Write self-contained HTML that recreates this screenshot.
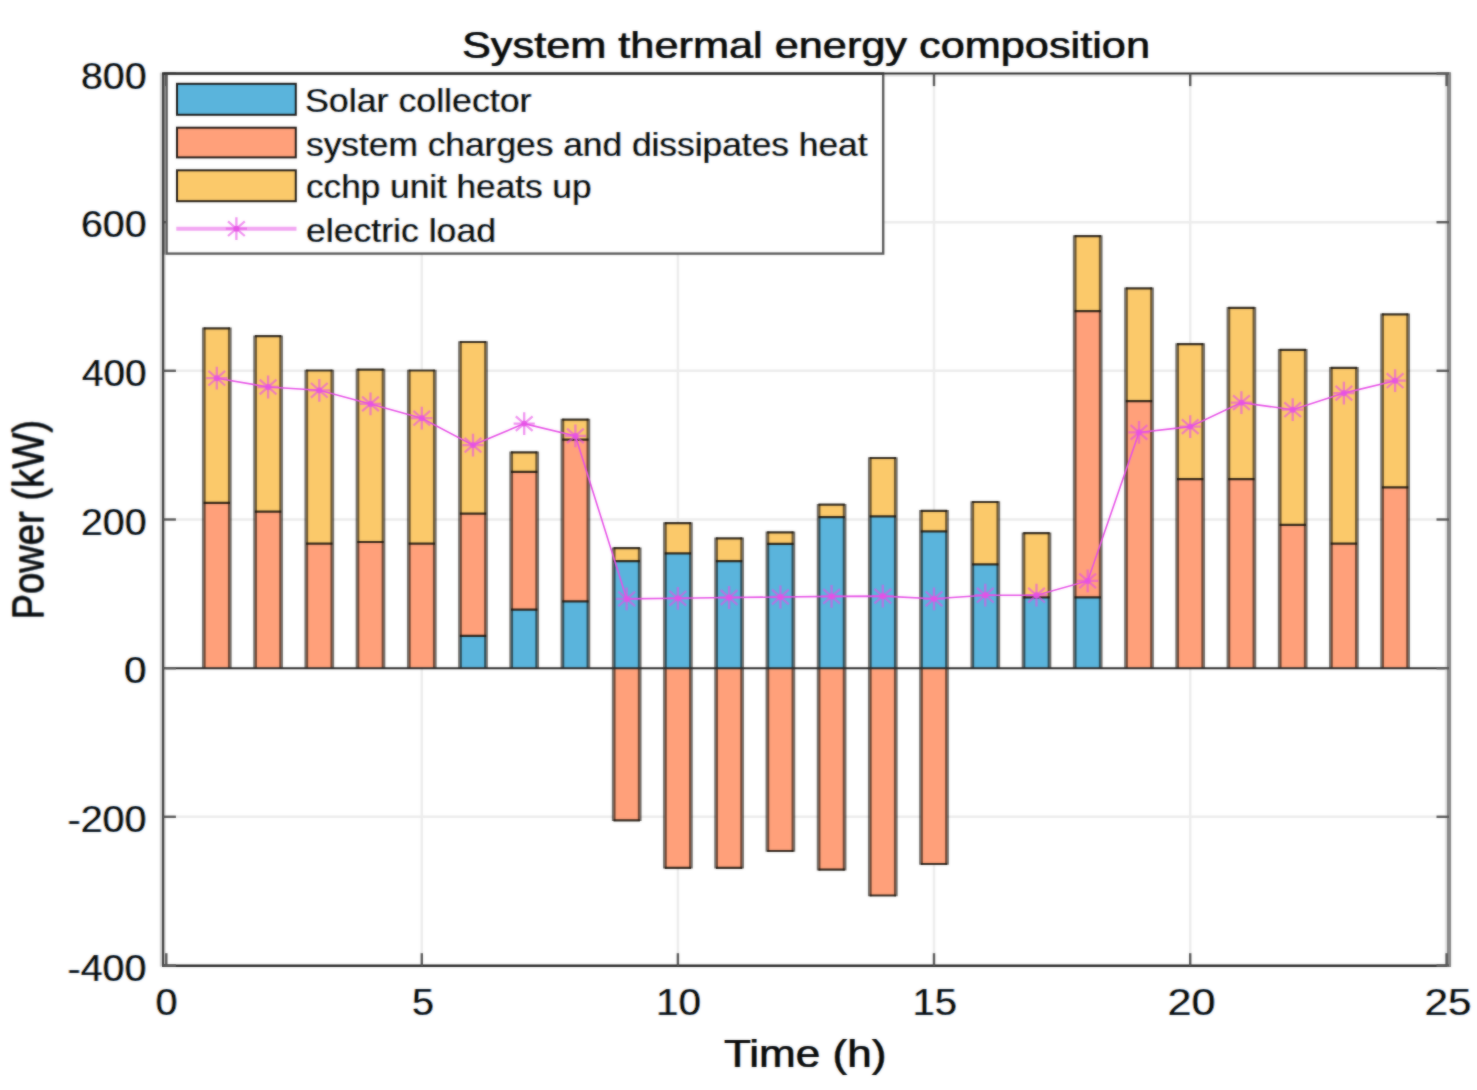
<!DOCTYPE html>
<html lang="en"><head><meta charset="utf-8"><title>System thermal energy composition</title>
<style>html,body{margin:0;padding:0;background:#fff;}body{width:1477px;height:1090px;overflow:hidden;}svg{display:block;}</style>
</head><body>
<svg width="1477" height="1090" viewBox="0 0 1477 1090">
<rect width="1477" height="1090" fill="#fff"/>
<defs><filter id="soft" x="0" y="0" width="1477" height="1090" filterUnits="userSpaceOnUse" color-interpolation-filters="sRGB"><feGaussianBlur stdDeviation="0.9"/></filter></defs>
<use href="#chart" filter="url(#soft)"/>
<g opacity="0.5">
<g id="chart">
<rect width="1477" height="1090" fill="#fff"/>
<g stroke="#ececec" stroke-width="2.4" fill="none">
<line x1="421.8" y1="73.6" x2="421.8" y2="965.7"/>
<line x1="677.9" y1="73.6" x2="677.9" y2="965.7"/>
<line x1="934.0" y1="73.6" x2="934.0" y2="965.7"/>
<line x1="1190.2" y1="73.6" x2="1190.2" y2="965.7"/>
<line x1="163.4" y1="222.2" x2="1449.0" y2="222.2"/>
<line x1="163.4" y1="370.8" x2="1449.0" y2="370.8"/>
<line x1="163.4" y1="519.5" x2="1449.0" y2="519.5"/>
<line x1="163.4" y1="816.8" x2="1449.0" y2="816.8"/>
</g>
<g><rect x="203.8" y="502.9" width="26.0" height="165.3" fill="#ffa07a"/><rect x="203.8" y="328.3" width="26.0" height="174.6" fill="#fbc96b"/><rect x="255.1" y="511.7" width="26.0" height="156.5" fill="#ffa07a"/><rect x="255.1" y="336.2" width="26.0" height="175.5" fill="#fbc96b"/><rect x="306.3" y="543.6" width="26.0" height="124.6" fill="#ffa07a"/><rect x="306.3" y="370.5" width="26.0" height="173.1" fill="#fbc96b"/><rect x="357.5" y="542.0" width="26.0" height="126.2" fill="#ffa07a"/><rect x="357.5" y="369.6" width="26.0" height="172.4" fill="#fbc96b"/><rect x="408.8" y="543.6" width="26.0" height="124.6" fill="#ffa07a"/><rect x="408.8" y="370.5" width="26.0" height="173.1" fill="#fbc96b"/><rect x="460.0" y="635.9" width="26.0" height="32.3" fill="#5ab4dc"/><rect x="460.0" y="513.6" width="26.0" height="122.3" fill="#ffa07a"/><rect x="460.0" y="342.0" width="26.0" height="171.6" fill="#fbc96b"/><rect x="511.2" y="609.7" width="26.0" height="58.5" fill="#5ab4dc"/><rect x="511.2" y="471.9" width="26.0" height="137.8" fill="#ffa07a"/><rect x="511.2" y="452.4" width="26.0" height="19.5" fill="#fbc96b"/><rect x="562.4" y="601.4" width="26.0" height="66.8" fill="#5ab4dc"/><rect x="562.4" y="439.6" width="26.0" height="161.8" fill="#ffa07a"/><rect x="562.4" y="419.6" width="26.0" height="20.0" fill="#fbc96b"/><rect x="613.7" y="561.1" width="26.0" height="107.1" fill="#5ab4dc"/><rect x="613.7" y="548.2" width="26.0" height="12.9" fill="#fbc96b"/><rect x="613.7" y="668.2" width="26.0" height="152.1" fill="#ffa07a"/><rect x="664.9" y="553.4" width="26.0" height="114.8" fill="#5ab4dc"/><rect x="664.9" y="523.1" width="26.0" height="30.3" fill="#fbc96b"/><rect x="664.9" y="668.2" width="26.0" height="199.6" fill="#ffa07a"/><rect x="716.1" y="561.2" width="26.0" height="107.0" fill="#5ab4dc"/><rect x="716.1" y="538.3" width="26.0" height="22.9" fill="#fbc96b"/><rect x="716.1" y="668.2" width="26.0" height="199.6" fill="#ffa07a"/><rect x="767.4" y="543.8" width="26.0" height="124.4" fill="#5ab4dc"/><rect x="767.4" y="532.3" width="26.0" height="11.5" fill="#fbc96b"/><rect x="767.4" y="668.2" width="26.0" height="182.8" fill="#ffa07a"/><rect x="818.6" y="517.2" width="26.0" height="151.0" fill="#5ab4dc"/><rect x="818.6" y="504.7" width="26.0" height="12.5" fill="#fbc96b"/><rect x="818.6" y="668.2" width="26.0" height="201.5" fill="#ffa07a"/><rect x="869.8" y="516.3" width="26.0" height="151.9" fill="#5ab4dc"/><rect x="869.8" y="458.0" width="26.0" height="58.3" fill="#fbc96b"/><rect x="869.8" y="668.2" width="26.0" height="227.3" fill="#ffa07a"/><rect x="921.0" y="531.3" width="26.0" height="136.9" fill="#5ab4dc"/><rect x="921.0" y="510.8" width="26.0" height="20.5" fill="#fbc96b"/><rect x="921.0" y="668.2" width="26.0" height="195.8" fill="#ffa07a"/><rect x="972.3" y="564.4" width="26.0" height="103.8" fill="#5ab4dc"/><rect x="972.3" y="502.0" width="26.0" height="62.4" fill="#fbc96b"/><rect x="1023.5" y="597.4" width="26.0" height="70.8" fill="#5ab4dc"/><rect x="1023.5" y="533.2" width="26.0" height="64.2" fill="#fbc96b"/><rect x="1074.7" y="597.4" width="26.0" height="70.8" fill="#5ab4dc"/><rect x="1074.7" y="311.2" width="26.0" height="286.2" fill="#ffa07a"/><rect x="1074.7" y="236.1" width="26.0" height="75.1" fill="#fbc96b"/><rect x="1126.0" y="401.2" width="26.0" height="267.0" fill="#ffa07a"/><rect x="1126.0" y="288.4" width="26.0" height="112.8" fill="#fbc96b"/><rect x="1177.2" y="479.2" width="26.0" height="189.0" fill="#ffa07a"/><rect x="1177.2" y="344.1" width="26.0" height="135.1" fill="#fbc96b"/><rect x="1228.4" y="479.2" width="26.0" height="189.0" fill="#ffa07a"/><rect x="1228.4" y="307.8" width="26.0" height="171.4" fill="#fbc96b"/><rect x="1279.7" y="524.9" width="26.0" height="143.3" fill="#ffa07a"/><rect x="1279.7" y="349.9" width="26.0" height="175.0" fill="#fbc96b"/><rect x="1330.9" y="543.6" width="26.0" height="124.6" fill="#ffa07a"/><rect x="1330.9" y="367.9" width="26.0" height="175.7" fill="#fbc96b"/><rect x="1382.1" y="487.4" width="26.0" height="180.8" fill="#ffa07a"/><rect x="1382.1" y="314.3" width="26.0" height="173.1" fill="#fbc96b"/></g>
<path d="M203.8 327.5V668.2M229.8 327.5V668.2M255.1 335.4V668.2M281.1 335.4V668.2M306.3 369.7V668.2M332.3 369.7V668.2M357.5 368.8V668.2M383.5 368.8V668.2M408.8 369.7V668.2M434.8 369.7V668.2M460.0 341.2V668.2M486.0 341.2V668.2M511.2 451.6V668.2M537.2 451.6V668.2M562.4 418.8V668.2M588.4 418.8V668.2M613.7 547.4V821.1M639.7 547.4V821.1M664.9 522.3V868.6M690.9 522.3V868.6M716.1 537.5V868.6M742.1 537.5V868.6M767.4 531.5V851.8M793.4 531.5V851.8M818.6 503.9V870.5M844.6 503.9V870.5M869.8 457.2V896.3M895.8 457.2V896.3M921.0 510.0V864.8M947.0 510.0V864.8M972.3 501.2V668.2M998.3 501.2V668.2M1023.5 532.4V668.2M1049.5 532.4V668.2M1074.7 235.3V668.2M1100.7 235.3V668.2M1126.0 287.6V668.2M1152.0 287.6V668.2M1177.2 343.3V668.2M1203.2 343.3V668.2M1228.4 307.0V668.2M1254.4 307.0V668.2M1279.7 349.1V668.2M1305.7 349.1V668.2M1330.9 367.1V668.2M1356.9 367.1V668.2M1382.1 313.5V668.2M1408.1 313.5V668.2" stroke="#120c06" stroke-opacity="0.58" stroke-width="3.7" fill="none"/>
<path d="M1023.3 533.2H1049.7M1023.3 597.4H1049.7M1074.5 236.1H1100.9M1074.5 311.2H1100.9M1074.5 597.4H1100.9M1125.8 288.4H1152.2M1125.8 401.2H1152.2M1177.0 344.1H1203.4M1177.0 479.2H1203.4M1228.2 307.8H1254.6M1228.2 479.2H1254.6M1279.5 349.9H1305.9M1279.5 524.9H1305.9M1330.7 367.9H1357.1M1330.7 543.6H1357.1M1381.9 314.3H1408.3M1381.9 487.4H1408.3M203.6 328.3H230.0M203.6 502.9H230.0M254.9 336.2H281.3M254.9 511.7H281.3M306.1 370.5H332.5M306.1 543.6H332.5M357.3 369.6H383.7M357.3 542.0H383.7M408.6 370.5H434.9M408.6 543.6H434.9M459.8 342.0H486.2M459.8 513.6H486.2M459.8 635.9H486.2M511.0 452.4H537.4M511.0 471.9H537.4M511.0 609.7H537.4M562.2 419.6H588.6M562.2 439.6H588.6M562.2 601.4H588.6M613.5 548.2H639.9M613.5 561.1H639.9M613.5 820.3H639.9M664.7 523.1H691.1M664.7 553.4H691.1M664.7 867.8H691.1M715.9 538.3H742.3M715.9 561.2H742.3M715.9 867.8H742.3M767.2 532.3H793.6M767.2 543.8H793.6M767.2 851.0H793.6M818.4 504.7H844.8M818.4 517.2H844.8M818.4 869.7H844.8M869.6 458.0H896.0M869.6 516.3H896.0M869.6 895.5H896.0M920.8 510.8H947.2M920.8 531.3H947.2M920.8 864.0H947.2M972.1 502.0H998.5M972.1 564.4H998.5" stroke="#1a140c" stroke-opacity="0.88" stroke-width="2.2" fill="none"/>
<line x1="163.4" y1="668.2" x2="1449.0" y2="668.2" stroke="#2a2a2a" stroke-width="1.9"/>
<polyline points="216.8,378.2 268.1,387.0 319.3,390.3 370.5,403.9 421.8,418.2 473.0,445.1 524.2,423.6 575.4,435.9 626.7,598.9 677.9,598.3 729.1,597.5 780.4,597.0 831.6,596.4 882.8,596.1 934.0,598.8 985.3,595.2 1036.5,595.2 1087.7,580.9 1139.0,432.4 1190.2,426.6 1241.4,402.6 1292.7,409.7 1343.9,393.1 1395.1,380.7" fill="none" stroke="#e650e6" stroke-width="1.6" stroke-opacity="1"/>
<path d="M206.2 378.2L227.4 378.2M216.8 366.8L216.8 389.6M208.4 370.9L225.2 385.5M208.4 385.5L225.2 370.9" stroke="#e650e6" stroke-width="2.3" fill="none" stroke-opacity="0.62"/><circle cx="216.8" cy="378.2" r="2.9" fill="#e650e6" fill-opacity="0.85"/>
<path d="M257.5 387.0L278.7 387.0M268.1 375.6L268.1 398.4M259.7 379.7L276.5 394.3M259.7 394.3L276.5 379.7" stroke="#e650e6" stroke-width="2.3" fill="none" stroke-opacity="0.62"/><circle cx="268.1" cy="387.0" r="2.9" fill="#e650e6" fill-opacity="0.85"/>
<path d="M308.7 390.3L329.9 390.3M319.3 378.9L319.3 401.7M310.9 383.0L327.7 397.6M310.9 397.6L327.7 383.0" stroke="#e650e6" stroke-width="2.3" fill="none" stroke-opacity="0.62"/><circle cx="319.3" cy="390.3" r="2.9" fill="#e650e6" fill-opacity="0.85"/>
<path d="M359.9 403.9L381.1 403.9M370.5 392.5L370.5 415.3M362.1 396.6L378.9 411.2M362.1 411.2L378.9 396.6" stroke="#e650e6" stroke-width="2.3" fill="none" stroke-opacity="0.62"/><circle cx="370.5" cy="403.9" r="2.9" fill="#e650e6" fill-opacity="0.85"/>
<path d="M411.1 418.2L432.4 418.2M421.8 406.8L421.8 429.6M413.4 410.9L430.1 425.5M413.4 425.5L430.1 410.9" stroke="#e650e6" stroke-width="2.3" fill="none" stroke-opacity="0.62"/><circle cx="421.8" cy="418.2" r="2.9" fill="#e650e6" fill-opacity="0.85"/>
<path d="M462.4 445.1L483.6 445.1M473.0 433.7L473.0 456.5M464.6 437.8L481.4 452.4M464.6 452.4L481.4 437.8" stroke="#e650e6" stroke-width="2.3" fill="none" stroke-opacity="0.62"/><circle cx="473.0" cy="445.1" r="2.9" fill="#e650e6" fill-opacity="0.85"/>
<path d="M513.6 423.6L534.8 423.6M524.2 412.2L524.2 435.0M515.8 416.3L532.6 430.9M515.8 430.9L532.6 416.3" stroke="#e650e6" stroke-width="2.3" fill="none" stroke-opacity="0.62"/><circle cx="524.2" cy="423.6" r="2.9" fill="#e650e6" fill-opacity="0.85"/>
<path d="M564.8 435.9L586.0 435.9M575.4 424.5L575.4 447.3M567.0 428.6L583.8 443.2M567.0 443.2L583.8 428.6" stroke="#e650e6" stroke-width="2.3" fill="none" stroke-opacity="0.62"/><circle cx="575.4" cy="435.9" r="2.9" fill="#e650e6" fill-opacity="0.85"/>
<path d="M616.1 598.9L637.3 598.9M626.7 587.5L626.7 610.3M618.3 591.6L635.1 606.2M618.3 606.2L635.1 591.6" stroke="#e650e6" stroke-width="2.3" fill="none" stroke-opacity="0.62"/><circle cx="626.7" cy="598.9" r="2.9" fill="#e650e6" fill-opacity="0.85"/>
<path d="M667.3 598.3L688.5 598.3M677.9 586.9L677.9 609.7M669.5 591.0L686.3 605.6M669.5 605.6L686.3 591.0" stroke="#e650e6" stroke-width="2.3" fill="none" stroke-opacity="0.62"/><circle cx="677.9" cy="598.3" r="2.9" fill="#e650e6" fill-opacity="0.85"/>
<path d="M718.5 597.5L739.7 597.5M729.1 586.1L729.1 608.9M720.7 590.2L737.5 604.8M720.7 604.8L737.5 590.2" stroke="#e650e6" stroke-width="2.3" fill="none" stroke-opacity="0.62"/><circle cx="729.1" cy="597.5" r="2.9" fill="#e650e6" fill-opacity="0.85"/>
<path d="M769.8 597.0L791.0 597.0M780.4 585.6L780.4 608.4M772.0 589.7L788.8 604.3M772.0 604.3L788.8 589.7" stroke="#e650e6" stroke-width="2.3" fill="none" stroke-opacity="0.62"/><circle cx="780.4" cy="597.0" r="2.9" fill="#e650e6" fill-opacity="0.85"/>
<path d="M821.0 596.4L842.2 596.4M831.6 585.0L831.6 607.8M823.2 589.1L840.0 603.7M823.2 603.7L840.0 589.1" stroke="#e650e6" stroke-width="2.3" fill="none" stroke-opacity="0.62"/><circle cx="831.6" cy="596.4" r="2.9" fill="#e650e6" fill-opacity="0.85"/>
<path d="M872.2 596.1L893.4 596.1M882.8 584.7L882.8 607.5M874.4 588.8L891.2 603.4M874.4 603.4L891.2 588.8" stroke="#e650e6" stroke-width="2.3" fill="none" stroke-opacity="0.62"/><circle cx="882.8" cy="596.1" r="2.9" fill="#e650e6" fill-opacity="0.85"/>
<path d="M923.4 598.8L944.6 598.8M934.0 587.4L934.0 610.2M925.6 591.5L942.4 606.1M925.6 606.1L942.4 591.5" stroke="#e650e6" stroke-width="2.3" fill="none" stroke-opacity="0.62"/><circle cx="934.0" cy="598.8" r="2.9" fill="#e650e6" fill-opacity="0.85"/>
<path d="M974.7 595.2L995.9 595.2M985.3 583.8L985.3 606.6M976.9 587.9L993.7 602.5M976.9 602.5L993.7 587.9" stroke="#e650e6" stroke-width="2.3" fill="none" stroke-opacity="0.62"/><circle cx="985.3" cy="595.2" r="2.9" fill="#e650e6" fill-opacity="0.85"/>
<path d="M1025.9 595.2L1047.1 595.2M1036.5 583.8L1036.5 606.6M1028.1 587.9L1044.9 602.5M1028.1 602.5L1044.9 587.9" stroke="#e650e6" stroke-width="2.3" fill="none" stroke-opacity="0.62"/><circle cx="1036.5" cy="595.2" r="2.9" fill="#e650e6" fill-opacity="0.85"/>
<path d="M1077.1 580.9L1098.3 580.9M1087.7 569.5L1087.7 592.3M1079.3 573.6L1096.1 588.2M1079.3 588.2L1096.1 573.6" stroke="#e650e6" stroke-width="2.3" fill="none" stroke-opacity="0.62"/><circle cx="1087.7" cy="580.9" r="2.9" fill="#e650e6" fill-opacity="0.85"/>
<path d="M1128.4 432.4L1149.6 432.4M1139.0 421.0L1139.0 443.8M1130.6 425.1L1147.4 439.7M1130.6 439.7L1147.4 425.1" stroke="#e650e6" stroke-width="2.3" fill="none" stroke-opacity="0.62"/><circle cx="1139.0" cy="432.4" r="2.9" fill="#e650e6" fill-opacity="0.85"/>
<path d="M1179.6 426.6L1200.8 426.6M1190.2 415.2L1190.2 438.0M1181.8 419.3L1198.6 433.9M1181.8 433.9L1198.6 419.3" stroke="#e650e6" stroke-width="2.3" fill="none" stroke-opacity="0.62"/><circle cx="1190.2" cy="426.6" r="2.9" fill="#e650e6" fill-opacity="0.85"/>
<path d="M1230.8 402.6L1252.0 402.6M1241.4 391.2L1241.4 414.0M1233.0 395.3L1249.8 409.9M1233.0 409.9L1249.8 395.3" stroke="#e650e6" stroke-width="2.3" fill="none" stroke-opacity="0.62"/><circle cx="1241.4" cy="402.6" r="2.9" fill="#e650e6" fill-opacity="0.85"/>
<path d="M1282.1 409.7L1303.3 409.7M1292.7 398.3L1292.7 421.1M1284.3 402.4L1301.1 417.0M1284.3 417.0L1301.1 402.4" stroke="#e650e6" stroke-width="2.3" fill="none" stroke-opacity="0.62"/><circle cx="1292.7" cy="409.7" r="2.9" fill="#e650e6" fill-opacity="0.85"/>
<path d="M1333.3 393.1L1354.5 393.1M1343.9 381.7L1343.9 404.5M1335.5 385.8L1352.3 400.4M1335.5 400.4L1352.3 385.8" stroke="#e650e6" stroke-width="2.3" fill="none" stroke-opacity="0.62"/><circle cx="1343.9" cy="393.1" r="2.9" fill="#e650e6" fill-opacity="0.85"/>
<path d="M1384.5 380.7L1405.7 380.7M1395.1 369.3L1395.1 392.1M1386.7 373.4L1403.5 388.0M1386.7 388.0L1403.5 373.4" stroke="#e650e6" stroke-width="2.3" fill="none" stroke-opacity="0.62"/><circle cx="1395.1" cy="380.7" r="2.9" fill="#e650e6" fill-opacity="0.85"/>
<rect x="163.4" y="74.5" width="1285.6" height="2.4" fill="#ebebeb"/>
<rect x="1444.7" y="73.6" width="2.3" height="892.1" fill="#e8e8e8"/>
<rect x="159.7" y="72.6" width="2.2" height="894.1" fill="#d8d8d8"/>
<rect x="164.2" y="73.6" width="1.6" height="892.1" fill="#dedede"/>
<line x1="162.1" y1="73.6" x2="1450.7" y2="73.6" stroke="#2c2c2c" stroke-width="2.0"/>
<line x1="162.1" y1="965.7" x2="1450.7" y2="965.7" stroke="#2c2c2c" stroke-width="2.4"/>
<line x1="163.1" y1="73.6" x2="163.1" y2="965.7" stroke="#444444" stroke-width="2.3"/>
<rect x="1446.9" y="72.6" width="4.2" height="894.3000000000001" fill="#8a8a8a"/>
<g stroke="#5a5a5a" stroke-width="2.4">
<line x1="166.3" y1="965.7" x2="166.3" y2="953.2"/>
<line x1="166.3" y1="73.6" x2="166.3" y2="86.1"/>
<line x1="421.8" y1="965.7" x2="421.8" y2="953.2"/>
<line x1="421.8" y1="73.6" x2="421.8" y2="86.1"/>
<line x1="677.9" y1="965.7" x2="677.9" y2="953.2"/>
<line x1="677.9" y1="73.6" x2="677.9" y2="86.1"/>
<line x1="934.0" y1="965.7" x2="934.0" y2="953.2"/>
<line x1="934.0" y1="73.6" x2="934.0" y2="86.1"/>
<line x1="1190.2" y1="965.7" x2="1190.2" y2="953.2"/>
<line x1="1190.2" y1="73.6" x2="1190.2" y2="86.1"/>
<line x1="1446.6" y1="965.7" x2="1446.6" y2="953.2"/>
<line x1="1446.6" y1="73.6" x2="1446.6" y2="86.1"/>
<line x1="163.4" y1="73.5" x2="175.9" y2="73.5"/>
<line x1="1449.0" y1="73.5" x2="1436.5" y2="73.5"/>
<line x1="163.4" y1="222.2" x2="175.9" y2="222.2"/>
<line x1="1449.0" y1="222.2" x2="1436.5" y2="222.2"/>
<line x1="163.4" y1="370.8" x2="175.9" y2="370.8"/>
<line x1="1449.0" y1="370.8" x2="1436.5" y2="370.8"/>
<line x1="163.4" y1="519.5" x2="175.9" y2="519.5"/>
<line x1="1449.0" y1="519.5" x2="1436.5" y2="519.5"/>
<line x1="163.4" y1="668.2" x2="175.9" y2="668.2"/>
<line x1="1449.0" y1="668.2" x2="1436.5" y2="668.2"/>
<line x1="163.4" y1="816.8" x2="175.9" y2="816.8"/>
<line x1="1449.0" y1="816.8" x2="1436.5" y2="816.8"/>
<line x1="163.4" y1="965.5" x2="175.9" y2="965.5"/>
<line x1="1449.0" y1="965.5" x2="1436.5" y2="965.5"/>
</g>
<rect x="166.6" y="73.8" width="716.6" height="179.8" fill="#fff" stroke="#5a5a5a" stroke-width="2.4"/>
<line x1="163.4" y1="73.6" x2="163.4" y2="254.6" stroke="#444444" stroke-width="2.2"/>
<line x1="162.1" y1="73.6" x2="884.2" y2="73.6" stroke="#2c2c2c" stroke-width="2.0"/>
<rect x="177.0" y="83.8" width="118.80000000000001" height="31.0" fill="#5ab4dc" stroke="#0c0804" stroke-width="2.0" stroke-opacity="0.9"/>
<rect x="177.0" y="127.7" width="118.80000000000001" height="29.700000000000003" fill="#ffa07a" stroke="#0c0804" stroke-width="2.0" stroke-opacity="0.9"/>
<rect x="177.0" y="170.3" width="118.80000000000001" height="30.899999999999977" fill="#fbc96b" stroke="#0c0804" stroke-width="2.0" stroke-opacity="0.9"/>
<line x1="176.3" y1="228.7" x2="296.5" y2="228.7" stroke="#e650e6" stroke-width="4.0" stroke-opacity="0.5"/>
<path d="M225.8 228.7L247.0 228.7M236.4 217.3L236.4 240.1M228.0 221.4L244.8 236.0M228.0 236.0L244.8 221.4" stroke="#e650e6" stroke-width="2.3" fill="none" stroke-opacity="0.62"/><circle cx="236.4" cy="228.7" r="2.9" fill="#e650e6" fill-opacity="0.85"/>
<defs><mask id="erA" maskUnits="userSpaceOnUse" x="0" y="0" width="1477" height="1090"><use href="#txtA" fill="#fff" stroke="#000" stroke-width="0.3"/></mask></defs>
<use href="#txtA" transform="translate(-0.75,0)" fill="#e08a2a" opacity="0.85"/>
<use href="#txtA" transform="translate(0.75,0)" fill="#2a80d6" opacity="0.85"/>
<g mask="url(#erA)" fill="#0a0a0a">
<g id="txtA">
<text x="305.00" y="111.9" font-size="33.5" font-family="'Liberation Sans', Arial, sans-serif" textLength="226.50" lengthAdjust="spacingAndGlyphs">Solar collector</text>
<text x="306.00" y="155.9" font-size="33.5" font-family="'Liberation Sans', Arial, sans-serif" textLength="561.50" lengthAdjust="spacingAndGlyphs">system charges and dissipates heat</text>
<text x="306.00" y="197.8" font-size="33.5" font-family="'Liberation Sans', Arial, sans-serif" textLength="285.50" lengthAdjust="spacingAndGlyphs">cchp unit heats up</text>
<text x="306.00" y="241.6" font-size="33.5" font-family="'Liberation Sans', Arial, sans-serif" textLength="190.00" lengthAdjust="spacingAndGlyphs">electric load</text>
<text x="81.00" y="88.5" font-size="36.3" font-family="'Liberation Sans', Arial, sans-serif" textLength="65.50" lengthAdjust="spacingAndGlyphs">800</text>
<text x="81.00" y="237.2" font-size="36.3" font-family="'Liberation Sans', Arial, sans-serif" textLength="65.50" lengthAdjust="spacingAndGlyphs">600</text>
<text x="82.00" y="385.8" font-size="36.3" font-family="'Liberation Sans', Arial, sans-serif" textLength="64.50" lengthAdjust="spacingAndGlyphs">400</text>
<text x="81.00" y="534.5" font-size="36.3" font-family="'Liberation Sans', Arial, sans-serif" textLength="65.50" lengthAdjust="spacingAndGlyphs">200</text>
<text x="124.00" y="683.2" font-size="36.3" font-family="'Liberation Sans', Arial, sans-serif" textLength="22.50" lengthAdjust="spacingAndGlyphs">0</text>
<text x="67.50" y="831.8" font-size="36.3" font-family="'Liberation Sans', Arial, sans-serif" textLength="79.00" lengthAdjust="spacingAndGlyphs">-200</text>
<text x="67.50" y="980.5" font-size="36.3" font-family="'Liberation Sans', Arial, sans-serif" textLength="79.00" lengthAdjust="spacingAndGlyphs">-400</text>
<text x="155.50" y="1015.0" font-size="36.3" font-family="'Liberation Sans', Arial, sans-serif" textLength="22.00" lengthAdjust="spacingAndGlyphs">0</text>
<text x="412.00" y="1015.0" font-size="36.3" font-family="'Liberation Sans', Arial, sans-serif" textLength="22.00" lengthAdjust="spacingAndGlyphs">5</text>
<text x="656.00" y="1015.0" font-size="36.3" font-family="'Liberation Sans', Arial, sans-serif" textLength="45.00" lengthAdjust="spacingAndGlyphs">10</text>
<text x="912.50" y="1015.0" font-size="36.3" font-family="'Liberation Sans', Arial, sans-serif" textLength="44.50" lengthAdjust="spacingAndGlyphs">15</text>
<text x="1167.50" y="1015.0" font-size="36.3" font-family="'Liberation Sans', Arial, sans-serif" textLength="48.00" lengthAdjust="spacingAndGlyphs">20</text>
<text x="1424.50" y="1015.0" font-size="36.3" font-family="'Liberation Sans', Arial, sans-serif" textLength="47.00" lengthAdjust="spacingAndGlyphs">25</text>
</g></g>
<use href="#txtB" transform="translate(-0.75,0)" fill="#e08a2a" stroke="#e08a2a" stroke-width="0.2" opacity="0.85"/>
<use href="#txtB" transform="translate(0.75,0)" fill="#2a80d6" stroke="#2a80d6" stroke-width="0.2" opacity="0.85"/>
<g fill="#0a0a0a" stroke="#0a0a0a" stroke-width="0.2">
<g id="txtB">
<text x="462.00" y="57.6" font-size="37.8" font-family="'Liberation Sans', Arial, sans-serif" textLength="688.00" lengthAdjust="spacingAndGlyphs">System thermal energy composition</text>
<text x="724.00" y="1066.8" font-size="38.2" font-family="'Liberation Sans', Arial, sans-serif" textLength="162.50" lengthAdjust="spacingAndGlyphs">Time (h)</text>
<text transform="translate(43.5,619.50) rotate(-90)" font-size="44.7" font-family="'Liberation Sans', Arial, sans-serif" textLength="199.50" lengthAdjust="spacingAndGlyphs">Power (kW)</text>
</g></g>
</g></g>
</svg>
</body></html>
